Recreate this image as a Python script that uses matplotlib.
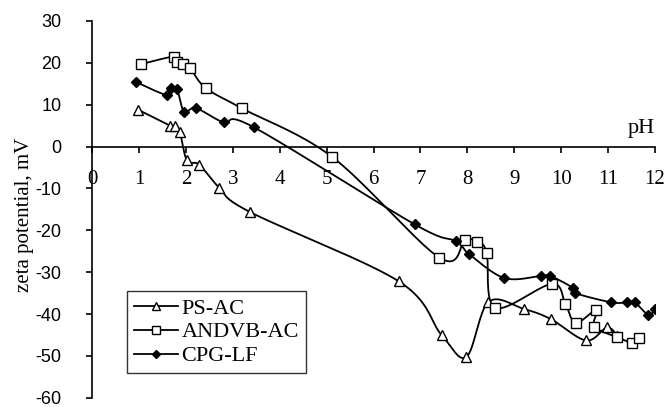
import matplotlib
matplotlib.use("Agg")
import matplotlib.pyplot as plt
import numpy as np

# zeta potential vs pH for the three sorbents
ps_ph = [0.98, 1.66, 1.77, 1.87, 2.02, 2.28, 2.71, 3.36, 6.54, 7.45, 7.98,
         8.45, 9.21, 9.78, 10.53, 10.98, 11.2]
ps_zeta = [8.8, 5.0, 5.0, 3.5, -3.3, -4.3, -9.8, -15.6, -32.2, -45.0, -50.2,
           -37.1, -38.8, -41.2, -46.3, -43.2, -45.3]

andvb_ph = [1.05, 1.74, 1.81, 1.94, 2.09, 2.42, 3.2, 5.12, 7.4, 7.95, 8.2,
            8.41, 8.59, 9.8, 10.09, 10.31, 10.75, 10.71, 11.19, 11.51, 11.65]
andvb_zeta = [19.7, 21.5, 20.2, 19.7, 18.7, 14.0, 9.1, -2.5, -26.5, -22.4, -22.7,
              -25.3, -38.5, -32.8, -37.6, -42.1, -39.0, -43.0, -45.5, -46.8, -45.6]

cpg_ph = [0.94, 1.59, 1.69, 1.81, 1.96, 2.21, 2.8, 3.45, 6.88, 7.75, 8.04,
          8.79, 9.57, 9.77, 10.26, 10.3, 11.07, 11.4, 11.57, 11.86, 12.0]
cpg_zeta = [15.4, 12.3, 14.0, 13.7, 8.3, 9.2, 5.8, 4.6, -18.6, -22.6, -25.7,
            -31.4, -30.9, -30.9, -33.8, -35.0, -37.2, -37.2, -37.2, -40.2, -38.8]

x_ticks = list(range(0, 13))
y_ticks = list(range(-60, 31, 10))

SERIF = "Liberation Serif"
SANS = "Liberation Sans"


def smooth(x, y, yscale=0.09, n=20):
    # Catmull-Rom curve through the points (same idea as spreadsheet "smoothed line")
    p = np.column_stack([np.asarray(x, float), np.asarray(y, float) * yscale])
    p = np.vstack([p[0], p, p[-1]])
    out = []
    t = np.linspace(0, 1, n, endpoint=False)[:, None]
    for i in range(1, len(p) - 2):
        p0, p1, p2, p3 = p[i - 1], p[i], p[i + 1], p[i + 2]
        c1 = p1 + (p2 - p0) / 6
        c2 = p2 - (p3 - p1) / 6
        seg = ((1 - t) ** 3 * p1 + 3 * (1 - t) ** 2 * t * c1
               + 3 * (1 - t) * t ** 2 * c2 + t ** 3 * p2)
        out.append(seg)
    out.append(p[-2][None, :])
    out = np.vstack(out)
    return out[:, 0], out[:, 1] / yscale


fig = plt.figure(figsize=(6.68, 4.07), dpi=100)
ax = fig.add_axes([0.138, 0.0225, 0.8425, 0.926])

series = [
    (ps_ph, ps_zeta, "PS-AC", dict(marker="^", markersize=7, markerfacecolor="white")),
    (andvb_ph, andvb_zeta, "ANDVB-AC", dict(marker="s", markersize=7, markerfacecolor="white")),
    (cpg_ph, cpg_zeta, "CPG-LF", dict(marker="D", markersize=5.5, markerfacecolor="black")),
]
handles = []
for xs, ys, name, mk in series:
    sx, sy = smooth(xs, ys)
    ax.plot(sx, sy, color="black", lw=1.3, zorder=2)
    ax.plot(xs, ys, ls="none", markeredgecolor="black", markeredgewidth=1.0,
            zorder=3, **mk)
    h, = ax.plot([], [], color="black", lw=1.3, markeredgecolor="black",
                 markeredgewidth=1.0, **dict(mk, markersize=mk["markersize"] - 1.5))
    h.set_label(name)
    handles.append(h)

ax.set_xlim(0, 12)
ax.set_ylim(-60, 30)
ax.spines["top"].set_visible(False)
ax.spines["right"].set_visible(False)
ax.spines["bottom"].set_position(("data", 0))
for s in ax.spines.values():
    s.set_linewidth(1.2)

ax.set_xticks(x_ticks)
ax.set_xticklabels([str(v) for v in x_ticks], fontfamily=SERIF, fontsize=15)
ax.set_yticks(y_ticks)
ax.set_yticklabels([str(v) for v in y_ticks], fontfamily=SANS, fontsize=13)
ax.tick_params(axis="x", direction="out", length=4, width=1.2, pad=13)
ax.tick_params(axis="y", direction="out", length=4, width=1.2, pad=18)

ax.set_ylabel("zeta potential, mV", fontfamily=SERIF, fontsize=15)
ax.yaxis.set_label_coords(-0.104, 0.485)
ax.text(12, 2.0, "pH", fontfamily=SERIF, fontsize=16, ha="right", va="bottom")

leg = ax.legend(handles=handles, loc="lower left", bbox_to_anchor=(0.062, 0.066),
                prop={"family": SERIF, "size": 16}, frameon=True, fancybox=False,
                edgecolor="black", handlelength=2.0, handletextpad=0.15,
                labelspacing=0.15, borderpad=0.3, borderaxespad=0)
leg.get_frame().set_linewidth(1.0)

fig.savefig("out.png", dpi=100)
